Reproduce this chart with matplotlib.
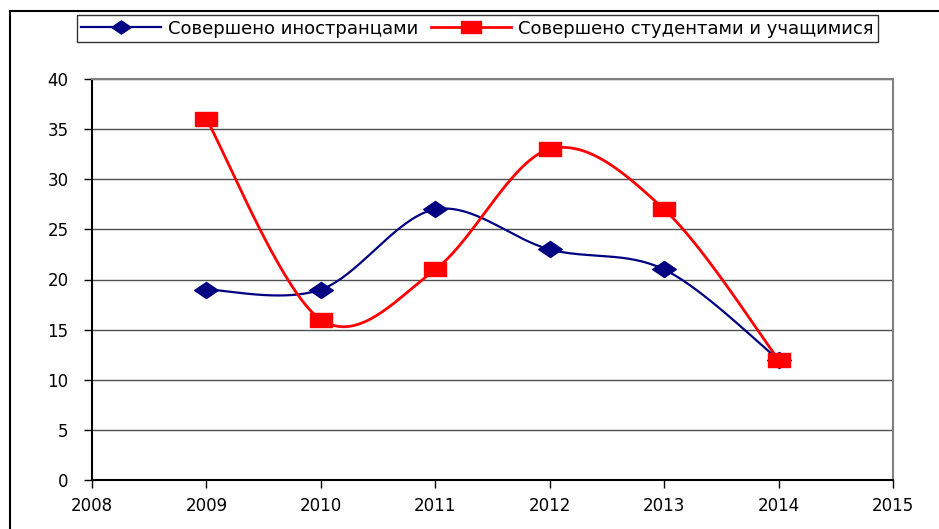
import numpy as np
import matplotlib.pyplot as plt
from matplotlib.path import Path
from matplotlib.patches import Rectangle

plt.rcParams['font.family'] = ['DejaVu Sans']

years = [2009, 2010, 2011, 2012, 2013, 2014]
foreigners = [19, 19, 27, 23, 21, 12]
students = [36, 16, 21, 33, 27, 12]
labels = ['Совершено иностранцами', 'Совершено студентами и учащимися']


# excel-like smoothed line: cubic bezier through points (catmull-rom tangents)
def smooth(xs, ys, n=40):
    p = np.column_stack([xs, ys]).astype(float)
    out = []
    for i in range(len(p) - 1):
        p0 = p[max(i - 1, 0)]
        p1 = p[i]
        p2 = p[i + 1]
        p3 = p[min(i + 2, len(p) - 1)]
        c1 = p1 + (p2 - p0) / 6
        c2 = p2 - (p3 - p1) / 6
        t = np.linspace(0, 1, n)[:, None]
        seg = (1 - t) ** 3 * p1 + 3 * (1 - t) ** 2 * t * c1 + 3 * (1 - t) * t ** 2 * c2 + t ** 3 * p2
        out.append(seg if i == 0 else seg[1:])
    out = np.vstack(out)
    return out[:, 0], out[:, 1]


diamond = Path([(0, 0.68), (1, 0), (0, -0.68), (-1, 0), (0, 0.68)], closed=True)
square = Path([(-1, -0.62), (1, -0.62), (1, 0.62), (-1, 0.62), (-1, -0.62)], closed=True)

fig = plt.figure(figsize=(9.39, 5.29), dpi=100)
ax = fig.add_axes([92 / 939, 49 / 529, 801 / 939, 401 / 529])

fig.patches.append(Rectangle((10 / 939, -0.1), 1.5, (529 - 11) / 529 + 0.1,
                             transform=fig.transFigure, fill=False,
                             edgecolor='black', lw=1.5))

bx, by = smooth(years, foreigners)
rx, ry = smooth(years, students)
ax.plot(bx, by, color='#000080', lw=1.6, zorder=3)
ax.plot(rx, ry, color='#ff0000', lw=2, zorder=3)
ax.plot(years, foreigners, ls='none', marker=diamond, ms=17, color='#000080', zorder=4)
ax.plot(years, students, ls='none', marker=square, ms=16, color='#ff0000', zorder=4)

# legend handles
hb, = ax.plot([], [], color='#000080', lw=1.6, marker=diamond, ms=14)
hr, = ax.plot([], [], color='#ff0000', lw=2, marker=square, ms=14)
leg = fig.legend([hb, hr], labels, loc='center', bbox_to_anchor=(0.5085, 0.946),
                 ncol=2, fontsize=13, frameon=True, fancybox=False,
                 handlelength=4.4, columnspacing=0.72, handletextpad=0.4,
                 borderpad=0.25, borderaxespad=0)
leg.get_frame().set_edgecolor('black')
leg.get_frame().set_linewidth(1)

ax.set_xlim(2008, 2015)
ax.set_ylim(0, 40)
ax.set_xticks(range(2008, 2016))
ax.set_yticks(range(0, 41, 5))
ax.yaxis.grid(True, color='#505050', lw=1)
ax.set_axisbelow(True)
ax.tick_params(labelsize=12, length=6, width=1, color='black')
ax.tick_params(axis='x', pad=6)
ax.tick_params(axis='y', pad=11)
for s in ['left', 'bottom']:
    ax.spines[s].set_linewidth(1.5)
    ax.spines[s].set_color('black')
for s in ['top', 'right']:
    ax.spines[s].set_linewidth(1.5)
    ax.spines[s].set_color('#808080')

fig.savefig('out.png', dpi=100)
